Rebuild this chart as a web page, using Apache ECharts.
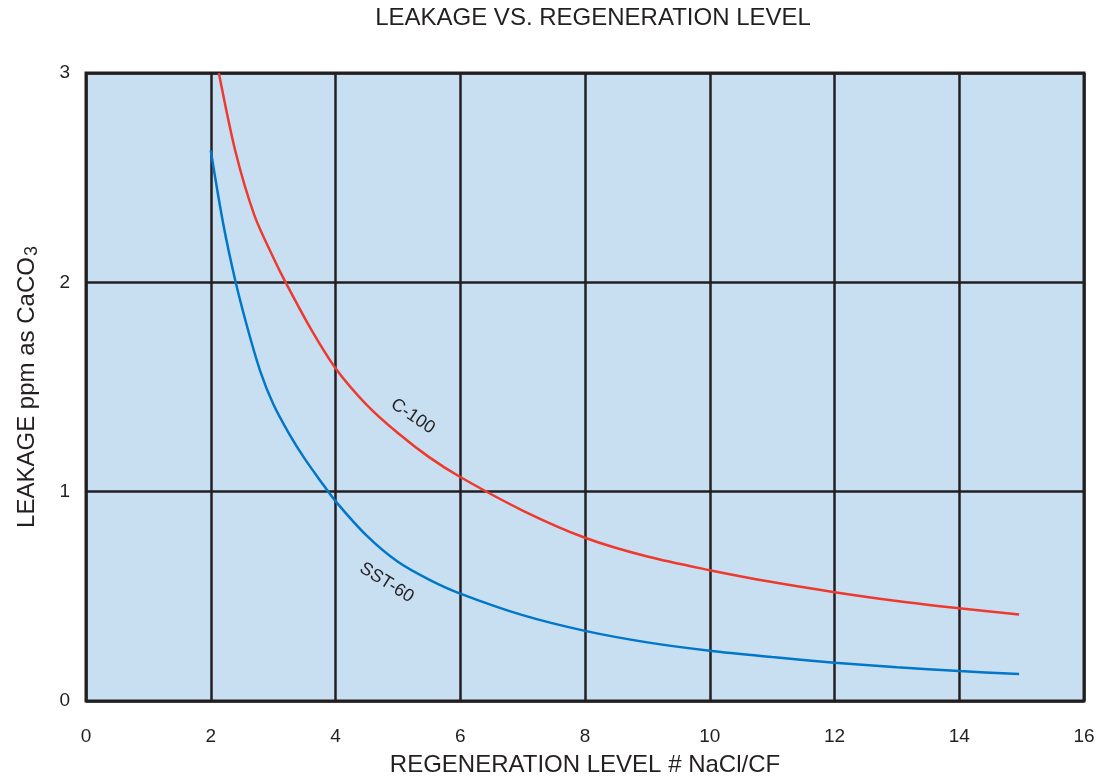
<!DOCTYPE html>
<html>
<head>
<meta charset="utf-8">
<script src="https://cdn.jsdelivr.net/npm/echarts@6/dist/echarts.min.js"></script>
<style>html,body{margin:0;padding:0;background:#fff}#c{width:1102px;height:782px}</style>
</head>
<body>
<div id="c"></div>
<script>
const c100X = [2.13, 2.4, 2.7, 3.0, 3.2, 3.6, 4.0, 4.5, 5.0, 5.5, 6.0, 7, 8, 9, 10, 11, 12, 13, 14, 14.96];
const c100Y = [3.0, 2.62, 2.32, 2.12, 2.0, 1.78, 1.59, 1.415, 1.28, 1.165, 1.07, 0.91, 0.78, 0.69, 0.625, 0.568, 0.52, 0.478, 0.443, 0.413];
const sst60X = [2.0, 2.2, 2.4, 2.6, 2.8, 3.0, 3.25, 3.5, 3.75, 4.0, 4.5, 5.0, 5.5, 6.0, 7, 8, 9, 10, 11, 12, 13, 14, 14.96];
const sst60Y = [2.63, 2.28, 2.0, 1.77, 1.57, 1.42, 1.28, 1.16, 1.055, 0.955, 0.79, 0.665, 0.58, 0.513, 0.41, 0.335, 0.28, 0.24, 0.21, 0.183, 0.161, 0.143, 0.129];
const xTicks = [0, 2, 4, 6, 8, 10, 12, 14, 16];
const yTicks = [0, 1, 2, 3];
const seriesNames = ['C-100', 'SST-60'];

const zip = (xs, ys) => xs.map((x, i) => [x, ys[i]]);
const font = 'Liberation Sans, Arial, Helvetica, sans-serif';
const chart = echarts.init(document.getElementById('c'), null, {renderer: 'canvas'});
chart.setOption({
  animation: false,
  title: {
    text: 'LEAKAGE VS. REGENERATION LEVEL',
    left: 588, top: 1, textAlign: 'center',
    textStyle: {fontFamily: font, fontWeight: 'normal', fontSize: 24, color: '#231F20'}
  },
  grid: {
    left: 86, right: 18, top: 73, bottom: 78, show: true,
    backgroundColor: '#C8DFF2', borderColor: '#231F20', borderWidth: 3
  },
  xAxis: {
    type: 'value', min: xTicks[0], max: xTicks[xTicks.length - 1], interval: 2,
    name: 'REGENERATION LEVEL # NaCl/CF', nameLocation: 'middle', nameGap: 52,
    nameTextStyle: {fontFamily: font, fontSize: 24, color: '#231F20'},
    axisLine: {show: false}, axisTick: {show: false},
    axisLabel: {fontFamily: font, fontSize: 19, color: '#231F20', margin: 26},
    splitLine: {show: true, lineStyle: {color: '#231F20', width: 2.5}}
  },
  yAxis: {
    type: 'value', min: yTicks[0], max: yTicks[yTicks.length - 1], interval: 1,
    name: '{a|LEAKAGE ppm as CaCO}{s|3}', nameLocation: 'middle', nameGap: 47,
    nameTextStyle: {
      fontFamily: font, color: '#231F20',
      rich: {
        a: {fontFamily: font, fontSize: 24, color: '#231F20', lineHeight: 24, verticalAlign: 'top'},
        s: {fontFamily: font, fontSize: 18, color: '#231F20', lineHeight: 18, verticalAlign: 'top', padding: [8, 0, 0, 1]}
      }
    },
    axisLine: {show: false}, axisTick: {show: false},
    axisLabel: {fontFamily: font, fontSize: 19, color: '#231F20', margin: 16},
    splitLine: {show: true, lineStyle: {color: '#231F20', width: 2.5}}
  },
  series: [
    {
      name: seriesNames[0], type: 'line', data: zip(c100X, c100Y),
      smooth: 0.3, showSymbol: false, symbol: 'none',
      lineStyle: {color: '#EE3A2E', width: 2.5}, z: 5,
      markPoint: {
        symbol: 'circle', symbolSize: 0,
        data: [{coord: [5.24, 1.36], value: seriesNames[0]}],
        label: {show: true, position: 'inside', formatter: seriesNames[0], rotate: -34,
          fontFamily: font, fontSize: 18, color: '#231F20'}
      }
    },
    {
      name: seriesNames[1], type: 'line', data: zip(sst60X, sst60Y),
      smooth: 0.3, showSymbol: false, symbol: 'none',
      lineStyle: {color: '#0077C8', width: 2.5}, z: 5,
      markPoint: {
        symbol: 'circle', symbolSize: 0,
        data: [{coord: [4.82, 0.565], value: seriesNames[1]}],
        label: {show: true, position: 'inside', formatter: seriesNames[1], rotate: -32,
          fontFamily: font, fontSize: 18, color: '#231F20'}
      }
    }
  ]
});
</script>
</body>
</html>
